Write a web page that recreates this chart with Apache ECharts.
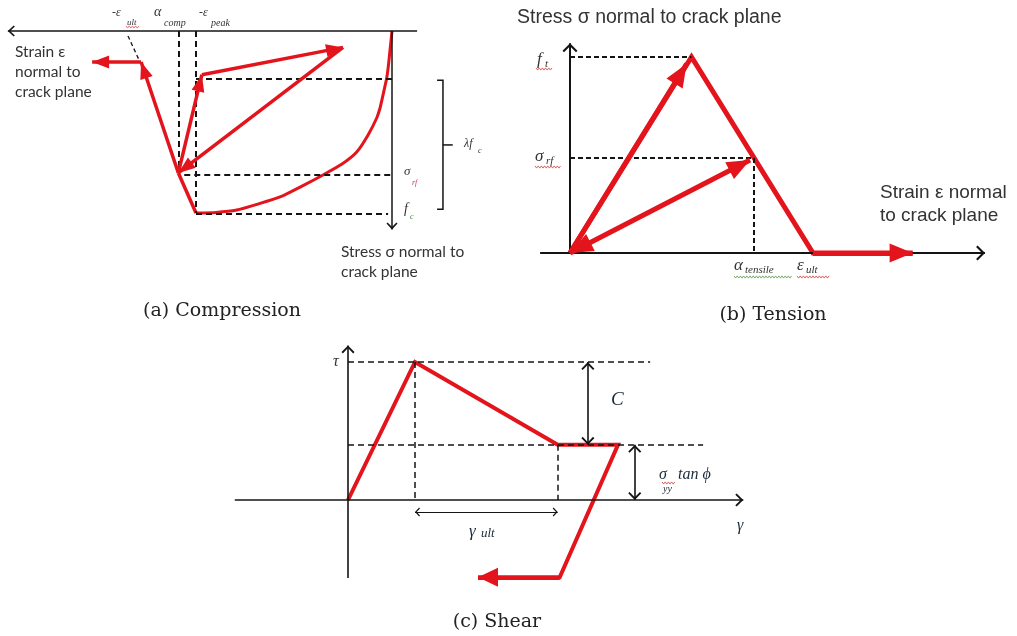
<!DOCTYPE html>
<html>
<head>
<meta charset="utf-8">
<script src="https://cdn.jsdelivr.net/npm/echarts@6/dist/echarts.min.js"></script>
<style>
  html, body { margin: 0; padding: 0; background: #fff; }
  #chart { width: 1017px; height: 636px; }
</style>
</head>
<body>
<div id="chart"></div>
<script>
// ---------- (a) Compression: strain and stress counted positive in compression ----------
// units: strain in multiples of eps_peak, stress in multiples of f_c
const epsPeak = 1.0;
const alphaComp = 1.09;
const fcComp = 1.0;
const sigmaRfComp = 0.78;
const reloadLevel = 0.26;          // lower end of the lambda*f_c range
const compEnvelope = [
  [0, 0], [0.010, 0.104], [0.018, 0.187], [0.027, 0.258], [0.046, 0.352], [0.061, 0.423],
  [0.078, 0.478], [0.122, 0.571], [0.180, 0.665], [0.255, 0.731], [0.352, 0.791], [0.459, 0.852],
  [0.571, 0.912], [0.684, 0.951], [0.792, 0.984], [0.898, 0.997], [1.0, 1.0]
];
const compSoftening = [[1.0, 1.0], [1.09, 0.78]];
const compToUltimate = [[1.09, 0.78], [1.28, 0.17], [1.53, 0.17]];
const compLoop = [[1.09, 0.78], [0.97, 0.24], [0.25, 0.09], [1.09, 0.78]];
const epsUltMark = [[1.347, 0.027], [1.286, 0.17]];
const compAxisX = [-0.128, 1.96];
const compAxisY = [0, 1.09];
const lambdaBracket = [[-0.23, 0.27], [-0.26, 0.27], [-0.26, 0.98], [-0.23, 0.98]];
const lambdaTick = [[-0.26, 0.626], [-0.31, 0.626]];

// ---------- (b) Tension ----------
// units: strain in multiples of eps_ult, stress in multiples of f_t
const ftTen = 1.0;
const epsAtFt = 0.5;
const epsUltTen = 1.0;
const sigmaRfTen = 0.485;
const alphaTensile = 0.7575;
const tenEnvelope = [[0, 0], [0.5, 1.0], [1.0, 0], [1.41, 0]];
const tenLoadArrow = [[0, 0], [0.48, 0.965]];
const tenUnload = [[0, 0], [0.741, 0.474]];
const tenOpenEnd = [[1.0, 0], [1.41, 0]];
const tenAxisX = [-0.123, 1.708];
const tenAxisY = [0, 1.07];

// ---------- (c) Shear ----------
// units: shear strain in multiples of strain at peak, shear stress in multiples of peak tau
const tauPeak = 1.0;
const tauResidual = 0.4;
const gammaPeak = 1.0;
const gammaResidual = 3.13;
const shearPath = [[0, 0], [1.0, 1.0], [3.13, 0.4], [4.03, 0.4], [3.16, -0.56], [1.94, -0.56]];
const shearReturn = [[3.16, -0.56], [1.94, -0.56]];
const cohesionDim = [[3.58, 1.0], [3.58, 0.4]];
const frictionDim = [[4.28, 0.4], [4.28, 0]];
const gammaUltDim = [[1.0, -0.087], [3.13, -0.087]];
const shearAxisX = [-1.69, 5.9];
const shearAxisY = [-0.565, 1.12];

const RED = '#e3141b';
const INK = '#141414';
const CHEVRON = 'path://M10,0 L20,10 L18,12 L10,4 L2,12 L0,10 Z';

function pairs(pts) {
  const out = [];
  for (let i = 0; i < pts.length - 1; i++) out.push([{ coord: pts[i] }, { coord: pts[i + 1] }]);
  return out;
}

// a host series that carries only straight annotated segments
function segments(gi, lines, lineStyle, symbol, symbolSize) {
  return {
    type: 'line', xAxisIndex: gi, yAxisIndex: gi, data: [], silent: true, clip: false, animation: false,
    markLine: {
      silent: true, animation: false, symbol: symbol, symbolSize: symbolSize,
      symbolOffset: [[0, '50%'], [0, '50%']],
      label: { show: false }, emphasis: { disabled: true },
      lineStyle: lineStyle, data: lines
    }
  };
}

function path(gi, pts, color, width, smooth) {
  return {
    type: 'line', xAxisIndex: gi, yAxisIndex: gi, data: pts, silent: true, clip: false, animation: false,
    showSymbol: false, symbol: 'none', smooth: smooth || false,
    lineStyle: { color: color, width: width, join: 'miter', cap: 'butt' }
  };
}

const dash = (w) => ({ color: INK, width: w, type: [6, 4] });
const solid = (c, w) => ({ color: c, width: w, type: 'solid' });

const series = [
  // (a)
  path(0, compEnvelope, RED, 3, 0.2),
  path(0, compSoftening, RED, 3.5),
  segments(0, [
    [{ coord: [alphaComp, 0] }, { coord: [alphaComp, sigmaRfComp] }],
    [{ coord: [epsPeak, 0] }, { coord: [epsPeak, fcComp] }],
    [{ coord: [epsPeak, reloadLevel] }, { coord: [0, reloadLevel] }],
    [{ coord: [alphaComp - 0.03, sigmaRfComp + 0.01] }, { coord: [0, sigmaRfComp + 0.01] }],
    [{ coord: [epsPeak, fcComp + 0.005] }, { coord: [0.02, fcComp + 0.005] }]
  ], dash(2), ['none', 'none'], 1),
  segments(0, pairs(epsUltMark), { color: INK, width: 1.3, type: [4, 3] }, ['none', 'none'], 1),
  segments(0, pairs(compToUltimate).concat(pairs(compLoop)), solid(RED, 3.5), ['none', 'triangle'], [13, 17]),
  segments(0, [[{ coord: [compAxisX[0], 0] }, { coord: [compAxisX[1], 0] }], [{ coord: [0, compAxisY[0]] }, { coord: [0, compAxisY[1]] }]],
    solid(INK, 1.5), ['none', CHEVRON], [11, 7]),
  path(0, lambdaBracket, INK, 1.5),
  path(0, lambdaTick, INK, 1.5),

  // (b)
  segments(1, [
    [{ coord: [0, ftTen] }, { coord: [epsAtFt, ftTen] }],
    [{ coord: [0, sigmaRfTen] }, { coord: [alphaTensile, sigmaRfTen] }],
    [{ coord: [alphaTensile, sigmaRfTen] }, { coord: [alphaTensile, 0] }]
  ], { color: INK, width: 2, type: [5, 3] }, ['none', 'none'], 1),
  segments(1, [[{ coord: [tenAxisX[0], 0] }, { coord: [tenAxisX[1], 0] }], [{ coord: [0, tenAxisY[0]] }, { coord: [0, tenAxisY[1]] }]],
    solid(INK, 2), ['none', CHEVRON], [15, 9]),
  path(1, tenEnvelope, RED, 5),
  segments(1, pairs(tenLoadArrow).concat(pairs(tenOpenEnd)), solid(RED, 5), ['none', 'triangle'], [19, 23]),
  segments(1, pairs(tenUnload), solid(RED, 5), ['triangle', 'triangle'], [19, 23]),

  // (c)
  segments(2, [
    [{ coord: [0, tauPeak] }, { coord: [4.51, tauPeak] }],
    [{ coord: [0, tauResidual] }, { coord: [5.3, tauResidual] }],
    [{ coord: [gammaPeak, tauPeak] }, { coord: [gammaPeak, 0] }],
    [{ coord: [gammaResidual, tauResidual] }, { coord: [gammaResidual, 0] }]
  ], { color: INK, width: 1.5, type: [6, 4] }, ['none', 'none'], 1),
  segments(2, [[{ coord: [shearAxisX[0], 0] }, { coord: [shearAxisX[1], 0] }], [{ coord: [0, shearAxisY[0]] }, { coord: [0, shearAxisY[1]] }]],
    solid(INK, 1.6), ['none', CHEVRON], [13, 8]),
  segments(2, pairs(cohesionDim).concat(pairs(frictionDim)), solid(INK, 1.6), [CHEVRON, CHEVRON], [13, 8]),
  segments(2, pairs(gammaUltDim), solid(INK, 1), [CHEVRON, CHEVRON], [9, 5]),
  path(2, shearPath, RED, 4),
  segments(2, pairs(shearReturn), solid(RED, 4), ['none', 'triangle'], [19, 20])
];

// ---------- text ----------
const SANS_A = '"Lato", "Open Sans", sans-serif';
const SANS_B = '"Liberation Sans", Arial, sans-serif';
const MATH = '"Liberation Serif", "DejaVu Serif", serif';
const CAP = '"DejaVu Serif", serif';

function txt(x, y, text, font, fill, align) {
  return {
    type: 'text', x: x, y: y, silent: true,
    style: { text: text, font: font, fill: fill || '#222', textAlign: align || 'left', align: align || 'left', textVerticalAlign: 'middle', verticalAlign: 'middle' }
  };
}
function squiggle(x0, x1, y, color) {
  const pts = [];
  for (let x = x0, k = 0; x <= x1; x += 1.6, k++) pts.push([x, y + (k % 2 ? 1.1 : -1.1)]);
  return { type: 'polyline', silent: true, shape: { points: pts }, style: { stroke: color, lineWidth: 0.8, fill: null } };
}

const graphics = [
  // (a)
  txt(112, 13, '-ε', 'italic 12px ' + MATH, '#333'),
  txt(127, 23, 'ult', 'italic 9px ' + MATH, '#333'),
  squiggle(126, 139, 27, '#e05060'),
  txt(154, 12, 'α', 'italic 14px ' + MATH, '#333'),
  txt(164, 23, 'comp', 'italic 10px ' + MATH, '#333'),
  txt(199, 13, '-ε', 'italic 12px ' + MATH, '#333'),
  txt(211, 23, 'peak', 'italic 10px ' + MATH, '#333'),
  txt(15, 52, 'Strain ε', '15.5px ' + SANS_A, '#333'),
  txt(15, 72, 'normal to', '15.5px ' + SANS_A, '#333'),
  txt(15, 92, 'crack plane', '15.5px ' + SANS_A, '#333'),
  txt(341, 252, 'Stress σ normal to', '15.5px ' + SANS_A, '#333'),
  txt(341, 272, 'crack plane', '15.5px ' + SANS_A, '#333'),
  txt(404, 172, 'σ', 'italic 13px ' + MATH, '#333'),
  txt(412, 183, 'rf', 'italic 8px ' + MATH, '#c04050'),
  txt(404, 209, 'f', 'italic 14px ' + MATH, '#333'),
  txt(410, 217, 'c', 'italic 8px ' + MATH, '#3a8a3a'),
  txt(464, 144, 'λf', 'italic 12px ' + MATH, '#333'),
  txt(478, 151, 'c', 'italic 8px ' + MATH, '#333'),

  // (b)
  txt(517, 18, 'Stress σ normal to crack plane', '19.5px ' + SANS_B, '#333'),
  txt(880, 193, 'Strain ε normal', '19px ' + SANS_B, '#333'),
  txt(880, 216, 'to crack plane', '19px ' + SANS_B, '#333'),
  txt(537, 60, 'f', 'italic 17px ' + MATH, '#333'),
  txt(545, 64, 't', 'italic 11px ' + MATH, '#333'),
  squiggle(536, 553, 69, '#d04040'),
  txt(535, 157, 'σ', 'italic 17px ' + MATH, '#333'),
  txt(546, 161, 'rf', 'italic 11px ' + MATH, '#333'),
  squiggle(535, 562, 167, '#d04040'),
  txt(734, 266, 'α', 'italic 17px ' + MATH, '#333'),
  txt(745, 270, 'tensile', 'italic 11px ' + MATH, '#333'),
  squiggle(734, 793, 277, '#5a9a40'),
  txt(797, 266, 'ε', 'italic 17px ' + MATH, '#333'),
  txt(806, 270, 'ult', 'italic 11px ' + MATH, '#333'),
  squiggle(797, 830, 277, '#d04040'),

  // (c)
  txt(333, 362, 'τ', 'italic 16px ' + MATH, '#333'),
  txt(611, 400, 'C', 'italic 19px ' + MATH, '#1a2a3a'),
  txt(659, 475, 'σ', 'italic 16px ' + MATH, '#1a2a3a'),
  txt(663, 489, 'yy', 'italic 10px ' + MATH, '#1a2a3a'),
  squiggle(662, 675, 483, '#d04040'),
  txt(678, 475, 'tan ϕ', 'italic 16px ' + MATH, '#1a2a3a'),
  txt(469, 532, 'γ', 'italic 17px ' + MATH, '#1a2a3a'),
  txt(481, 534, 'ult', 'italic 13px ' + MATH, '#1a2a3a'),
  txt(737, 526, 'γ', 'italic 16px ' + MATH, '#1a2a3a'),

  // captions
  txt(222, 311, '(a) Compression', '19px ' + CAP, '#222', 'center'),
  txt(773, 315, '(b) Tension', '19px ' + CAP, '#222', 'center'),
  txt(497, 622, '(c) Shear', '19px ' + CAP, '#222', 'center')
];

const chart = echarts.init(document.getElementById('chart'), null, { renderer: 'canvas' });
chart.setOption({
  animation: false,
  backgroundColor: '#ffffff',
  grid: [
    { left: 0, top: 3.7, width: 470.4, height: 254.8, outerBoundsMode: 'none' },
    { left: 521.4, top: 17.8, width: 486, height: 274.4, outerBoundsMode: 'none' },
    { left: 214, top: 334.4, width: 569.5, height: 262.2, outerBoundsMode: 'none' }
  ],
  xAxis: [
    { type: 'value', gridIndex: 0, min: -0.4, max: 2.0, inverse: true, show: false },
    { type: 'value', gridIndex: 1, min: -0.2, max: 1.8, show: false },
    { type: 'value', gridIndex: 2, min: -2, max: 6.5, show: false }
  ],
  yAxis: [
    { type: 'value', gridIndex: 0, min: -0.15, max: 1.25, inverse: true, show: false },
    { type: 'value', gridIndex: 1, min: -0.2, max: 1.2, show: false },
    { type: 'value', gridIndex: 2, min: -0.7, max: 1.2, show: false }
  ],
  series: series,
  graphic: { elements: graphics }
});
</script>
</body>
</html>
